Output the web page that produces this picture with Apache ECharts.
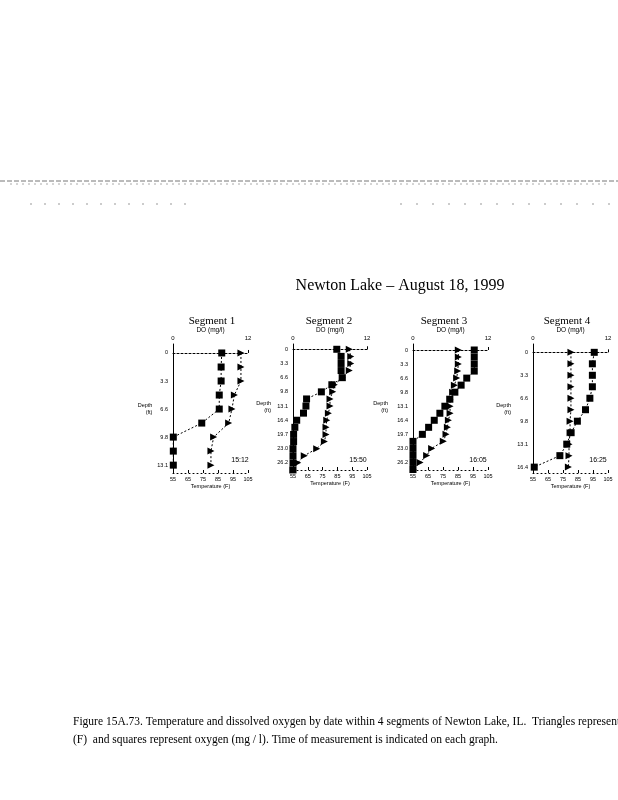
<!DOCTYPE html>
<html>
<head>
<meta charset="utf-8">
<script src="https://cdn.jsdelivr.net/npm/echarts@6/dist/echarts.min.js"></script>
<style>
html,body{margin:0;padding:0;background:#fff;}
#chart{width:618px;height:800px;}
</style>
</head>
<body>
<div id="chart"></div>
<script>
// ---------- data ----------
const mainTitle = 'Newton Lake \u2013 August 18, 1999';
const segmentNames = ['Segment 1', 'Segment 2', 'Segment 3', 'Segment 4'];
const measureTimes = ['15:12', '15:50', '16:05', '16:25'];

const depth1 = [0, 1.64, 3.28, 4.92, 6.56, 8.20, 9.84, 11.48, 13.12];
const oxygen1 = [7.8, 7.7, 7.7, 7.4, 7.4, 4.6, 0.05, 0.05, 0.05];
const temp1 = [100.3, 100.3, 100.3, 95.9, 94.3, 92.1, 82.1, 80.3, 80.3];

const depth2 = [0, 1.64, 3.28, 4.92, 6.56, 8.20, 9.84, 11.48, 13.12, 14.76, 16.40, 18.04, 19.68, 21.32, 22.96, 24.60, 26.24, 27.88];
const oxygen2 = [7.1, 7.8, 7.8, 7.8, 8.0, 6.3, 4.6, 2.2, 2.1, 1.7, 0.6, 0.3, 0.1, 0.1, 0, 0, 0, 0];
const temp2 = [93.0, 94.0, 94.0, 93.0, 88.3, 82.9, 81.8, 80.0, 80.0, 78.9, 77.8, 77.3, 77.3, 76.2, 71.0, 62.6, 58.2, 55.0];

const depth3 = [0, 1.64, 3.28, 4.92, 6.56, 8.20, 9.84, 11.48, 13.12, 14.76, 16.40, 18.04, 19.68, 21.32, 22.96, 24.60, 26.24, 27.88];
const oxygen3 = [9.8, 9.8, 9.8, 9.8, 8.6, 7.7, 6.7, 5.9, 5.1, 4.3, 3.4, 2.5, 1.5, 0, 0, 0, 0, 0];
const temp3 = [85.2, 85.2, 85.2, 84.8, 84.1, 82.6, 81.4, 79.7, 79.7, 79.7, 78.6, 77.9, 77.0, 75.2, 67.4, 64.1, 59.7, 55.2];

const depth4 = [0, 1.64, 3.28, 4.92, 6.56, 8.20, 9.84, 11.48, 13.12, 14.76, 16.40];
const oxygen4 = [9.8, 9.5, 9.5, 9.5, 9.1, 8.4, 7.1, 6.1, 5.4, 4.3, 0.2];
const temp4 = [80.3, 80.3, 80.3, 80.3, 80.3, 80.3, 79.7, 79.7, 79.0, 79.0, 78.6];

const depthTicks1 = [0, 3.28, 6.56, 9.84, 13.12];
const depthTicks2 = [0, 3.28, 6.56, 9.84, 13.12, 16.40, 19.68, 22.96, 26.24];
const depthTicks3 = [0, 3.28, 6.56, 9.84, 13.12, 16.40, 19.68, 22.96, 26.24];
const depthTicks4 = [0, 3.28, 6.56, 9.84, 13.12, 16.40];

const oxygenRange = [0, 12];
const tempRange = [55, 105];
const tempStep = 10;

const captionLine1 = 'Figure 15A.73. Temperature and dissolved oxygen by date within 4 segments of Newton Lake, IL.  Triangles represent temperature';
const captionLine2 = '(F)  and squares represent oxygen (mg / l). Time of measurement is indicated on each graph.';

// ---------- layout (styles only) ----------
const panels = [
  {depth: depth1, oxy: oxygen1, temp: temp1, ticks: depthTicks1, left: 173, width: 75, top: 344, bottom: 473, yMin: -1.05, yMax: 14.04, titleX: 212, nameGap: 12, timeX: 240},
  {depth: depth2, oxy: oxygen2, temp: temp2, ticks: depthTicks2, left: 293, width: 74, top: 344, bottom: 470, yMin: -1.22, yMax: 27.9, titleX: 329, nameGap: 22, timeX: 358},
  {depth: depth3, oxy: oxygen3, temp: temp3, ticks: depthTicks3, left: 413, width: 75, top: 344, bottom: 470, yMin: -1.4, yMax: 28.0, titleX: 444, nameGap: 25, timeX: 478},
  {depth: depth4, oxy: oxygen4, temp: temp4, ticks: depthTicks4, left: 533, width: 75, top: 344, bottom: 473, yMin: -1.19, yMax: 17.24, titleX: 567, nameGap: 22, timeX: 598}
];

const SANS = 'Liberation Sans, Arial, sans-serif';
const SERIF = 'Liberation Serif, Times New Roman, serif';

const grids = [], xAxes = [], yAxes = [], series = [], titles = [], graphics = [];

graphics.push({type: 'text', x: 400, y: 286,
  style: {text: mainTitle, font: '16px ' + SERIF, fill: '#000', textAlign: 'center', textVerticalAlign: 'middle'}});

panels.forEach((p, i) => {
  grids.push({left: p.left, top: p.top, width: p.width, height: p.bottom - p.top, containLabel: false});
  // top oxygen axis
  xAxes.push({
    type: 'value', gridIndex: i, position: 'top', min: oxygenRange[0], max: oxygenRange[1], interval: 12,
    name: 'DO (mg/l)', nameLocation: 'middle', nameGap: 7,
    nameTextStyle: {fontFamily: SANS, fontSize: 6.5, color: '#000'},
    axisLine: {show: true, lineStyle: {color: '#000', width: 1, type: [2, 2]}},
    axisTick: {show: true, length: 3, lineStyle: {color: '#000'}},
    axisLabel: {fontFamily: SANS, fontSize: 6, color: '#000', margin: 3},
    splitLine: {show: false}
  });
  // bottom temperature axis
  xAxes.push({
    type: 'value', gridIndex: i, position: 'bottom', min: tempRange[0], max: tempRange[1], interval: tempStep,
    name: 'Temperature (F)', nameLocation: 'middle', nameGap: 10,
    nameTextStyle: {fontFamily: SANS, fontSize: 5.5, color: '#000'},
    axisLine: {show: true, lineStyle: {color: '#000', width: 1, type: [1, 3]}},
    axisTick: {show: true, inside: true, length: 3, lineStyle: {color: '#000'}},
    axisLabel: {fontFamily: SANS, fontSize: 5.5, color: '#000', margin: 3},
    splitLine: {show: false}
  });
  yAxes.push({
    type: 'value', gridIndex: i, inverse: true, min: p.yMin, max: p.yMax,
    name: 'Depth\n(ft)', nameLocation: 'middle', nameGap: p.nameGap, nameRotate: 0,
    nameTextStyle: {fontFamily: SANS, fontSize: 5.5, color: '#000', lineHeight: 7},
    axisLine: {show: true, lineStyle: {color: '#000', width: 1}},
    axisTick: {show: false},
    axisLabel: {fontFamily: SANS, fontSize: 5.5, color: '#000', margin: 5,
      customValues: p.ticks,
      formatter: v => (v === 0 ? '0' : v.toFixed(1))},
    splitLine: {show: false}
  });
  series.push({
    type: 'line', xAxisIndex: 2 * i, yAxisIndex: i, clip: false,
    data: p.depth.map((d, k) => [p.oxy[k], d]),
    symbol: 'rect', symbolSize: 7, showSymbol: true,
    itemStyle: {color: '#000'},
    lineStyle: {color: '#000', width: 1, type: [2, 2]},
    animation: false
  });
  series.push({
    type: 'line', xAxisIndex: 2 * i + 1, yAxisIndex: i, clip: false,
    data: p.depth.map((d, k) => [p.temp[k], d]),
    symbol: 'triangle', symbolRotate: -90, symbolSize: 7, showSymbol: true,
    itemStyle: {color: '#000'},
    lineStyle: {color: '#000', width: 1, type: [2, 2]},
    animation: false
  });
  graphics.push({type: 'text', x: p.titleX, y: 321,
    style: {text: segmentNames[i], font: '11px ' + SERIF, fill: '#000', textAlign: 'center', textVerticalAlign: 'middle'}});
  graphics.push({type: 'text', x: p.timeX, y: 460,
    style: {text: measureTimes[i], font: '7px ' + SANS, fill: '#000', textAlign: 'center', textVerticalAlign: 'middle'}});
});

// caption
graphics.push({type: 'text', x: 73, y: 722,
  style: {text: captionLine1, font: '11.5px ' + SERIF, fill: '#000', textVerticalAlign: 'middle'}});
graphics.push({type: 'text', x: 73, y: 740,
  style: {text: captionLine2, font: '11.5px ' + SERIF, fill: '#000', textVerticalAlign: 'middle'}});
// scan header rules
graphics.push({type: 'line', shape: {x1: 0, y1: 181, x2: 618, y2: 181},
  style: {stroke: '#777', lineWidth: 1, lineDash: [5, 2]}});
graphics.push({type: 'line', shape: {x1: 10, y1: 184, x2: 610, y2: 184},
  style: {stroke: '#aaa', lineWidth: 1, lineDash: [2, 4]}});
graphics.push({type: 'line', shape: {x1: 30, y1: 204, x2: 195, y2: 204},
  style: {stroke: '#999', lineWidth: 1, lineDash: [2, 12]}});
graphics.push({type: 'line', shape: {x1: 400, y1: 204, x2: 612, y2: 204},
  style: {stroke: '#999', lineWidth: 1, lineDash: [2, 14]}});

const chart = echarts.init(document.getElementById('chart'), null, {renderer: 'canvas'});
chart.setOption({
  backgroundColor: '#fff',
  animation: false,
  grid: grids,
  xAxis: xAxes,
  yAxis: yAxes,
  series: series,
  graphic: graphics
});
</script>
</body>
</html>
